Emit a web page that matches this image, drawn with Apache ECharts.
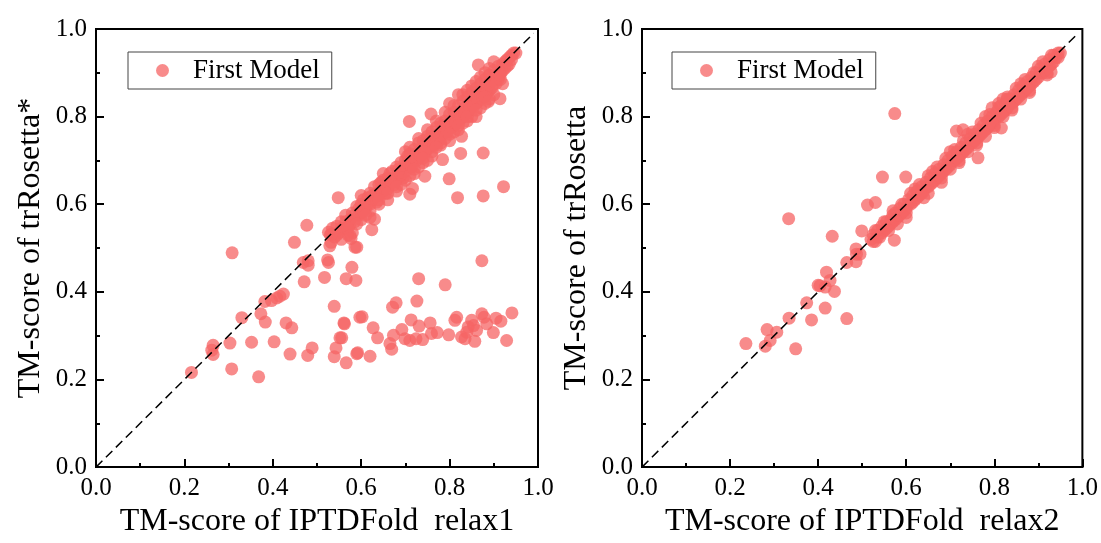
<!DOCTYPE html>
<html>
<head>
<meta charset="utf-8">
<script src="https://cdn.jsdelivr.net/npm/echarts@6/dist/echarts.min.js"></script>
<style>
html,body{margin:0;padding:0;background:#fff;}
#chart{width:1101px;height:543px;}
</style>
</head>
<body>
<div id="chart"></div>
<script>
// ---- data ----
var seriesName = 'First Model';
var leftXName = 'TM-score of IPTDFold  relax1';
var leftYName = 'TM-score of trRosetta*';
var rightXName = 'TM-score of IPTDFold  relax2';
var rightYName = 'TM-score of trRosetta';
var diagonal = [[0.0, 0.0], [0.99, 0.99]];

// relax1 vs trRosetta*: points close to the diagonal
var leftBand = [
[0.53,0.53],[0.535,0.545],[0.54,0.525],[0.545,0.55],[0.55,0.535],[0.555,0.56],[0.56,0.545],[0.565,0.575],
[0.57,0.55],[0.575,0.565],[0.58,0.58],[0.585,0.56],[0.59,0.595],[0.595,0.575],[0.60,0.60],[0.60,0.58],
[0.605,0.61],[0.61,0.59],[0.615,0.615],[0.62,0.60],[0.62,0.625],[0.625,0.61],[0.63,0.64],[0.63,0.615],
[0.635,0.625],[0.64,0.645],[0.64,0.62],[0.645,0.65],[0.65,0.63],[0.65,0.655],[0.655,0.64],[0.66,0.66],
[0.66,0.635],[0.665,0.67],[0.67,0.65],[0.67,0.675],[0.675,0.66],[0.68,0.685],[0.68,0.655],[0.685,0.67],
[0.69,0.695],[0.69,0.665],[0.695,0.68],[0.70,0.70],[0.70,0.675],[0.705,0.71],[0.705,0.69],[0.71,0.715],
[0.71,0.685],[0.715,0.70],[0.72,0.725],[0.72,0.70],[0.725,0.715],[0.73,0.74],[0.73,0.71],[0.735,0.725],
[0.74,0.745],[0.74,0.715],[0.745,0.735],[0.75,0.755],[0.75,0.725],[0.755,0.74],[0.76,0.765],[0.76,0.735],
[0.765,0.75],[0.77,0.775],[0.77,0.745],[0.775,0.76],[0.78,0.785],[0.78,0.755],[0.785,0.77],[0.79,0.79],
[0.79,0.765],[0.795,0.78],[0.80,0.805],[0.80,0.775],[0.805,0.79],[0.81,0.81],[0.81,0.78],[0.815,0.80],
[0.82,0.825],[0.82,0.795],[0.825,0.81],[0.83,0.835],[0.83,0.80],[0.835,0.82],[0.84,0.845],[0.84,0.81],
[0.845,0.83],[0.85,0.855],[0.85,0.825],[0.855,0.84],[0.86,0.865],[0.86,0.83],[0.865,0.85],[0.87,0.875],
[0.87,0.845],[0.875,0.86],[0.88,0.885],[0.88,0.855],[0.885,0.87],[0.89,0.895],[0.89,0.86],[0.895,0.88],
[0.90,0.905],[0.90,0.875],[0.905,0.89],[0.91,0.915],[0.91,0.885],[0.915,0.90],[0.92,0.92],[0.92,0.905],
[0.925,0.925],[0.93,0.93],[0.93,0.915],[0.935,0.935],[0.94,0.94],[0.945,0.945],[0.95,0.945],
[0.57,0.53],[0.58,0.535],[0.60,0.565],[0.62,0.57],[0.64,0.60],[0.66,0.61],[0.68,0.63],[0.70,0.655],
[0.72,0.67],[0.74,0.695],[0.76,0.71],[0.78,0.735],[0.80,0.745],[0.82,0.77],[0.84,0.79],[0.86,0.80],
[0.88,0.83],[0.90,0.85],[0.92,0.875],
[0.60,0.62],[0.65,0.67],[0.70,0.72],[0.75,0.77],[0.80,0.83],[0.82,0.85],[0.85,0.87],[0.87,0.89],[0.90,0.925],
[0.545,0.53],[0.555,0.545],[0.565,0.56],[0.575,0.555],[0.585,0.575],[0.595,0.59],[0.605,0.585],[0.615,0.60],
[0.625,0.62],[0.635,0.605],[0.645,0.635],[0.655,0.625],[0.665,0.655],[0.675,0.645],[0.685,0.68],[0.695,0.66],
[0.705,0.695],[0.715,0.685],[0.725,0.70],[0.735,0.71],[0.745,0.72],[0.755,0.75],[0.765,0.735],[0.775,0.745],
[0.785,0.78],[0.795,0.765],[0.805,0.775],[0.815,0.785],[0.825,0.795],[0.835,0.805],[0.845,0.815],[0.855,0.825],
[0.865,0.835],[0.875,0.845],[0.885,0.855],[0.895,0.865],[0.905,0.875],[0.915,0.885],[0.925,0.91],[0.935,0.92],
[0.94,0.93],[0.71,0.73],[0.73,0.75],[0.77,0.79],[0.79,0.81],[0.81,0.825],[0.83,0.85],[0.84,0.86],
[0.86,0.88],[0.88,0.90],[0.89,0.91],[0.76,0.72],[0.78,0.74],[0.79,0.75],[0.81,0.765],[0.83,0.785],
[0.85,0.80],[0.87,0.82],[0.89,0.84],[0.69,0.645],[0.71,0.665],[0.73,0.685],[0.75,0.70],[0.66,0.625],
[0.64,0.61],[0.62,0.585],[0.61,0.575],[0.59,0.555],[0.57,0.545],[0.555,0.52],[0.68,0.64],[0.72,0.68],
[0.74,0.705],[0.77,0.73],[0.80,0.76],[0.82,0.78],[0.84,0.80],[0.86,0.815],[0.88,0.845]
];
// relax1 vs trRosetta*: scattered points
var leftScatter = [
[0.216,0.216],[0.307,0.224],[0.368,0.206],[0.265,0.278],[0.262,0.267],[0.265,0.257],[0.303,0.283],[0.352,0.285],
[0.403,0.286],[0.439,0.258],[0.479,0.255],[0.489,0.272],[0.330,0.341],[0.373,0.350],[0.383,0.331],[0.430,0.329],
[0.443,0.318],[0.382,0.378],[0.397,0.380],[0.409,0.386],[0.416,0.390],[0.424,0.395],[0.308,0.489],[0.449,0.513],
[0.471,0.423],[0.469,0.467],[0.480,0.471],[0.480,0.461],[0.517,0.433],[0.524,0.473],[0.526,0.467],[0.477,0.552],
[0.539,0.367],[0.562,0.327],[0.552,0.295],[0.543,0.272],[0.539,0.252],[0.566,0.238],[0.566,0.430],[0.588,0.426],
[0.579,0.456],[0.590,0.259],[0.597,0.342],[0.532,0.513],[0.529,0.505],[0.533,0.532],[0.575,0.528],[0.586,0.502],
[0.873,0.471],[0.730,0.430],[0.790,0.416],[0.679,0.375],[0.671,0.365],[0.726,0.379],[0.602,0.343],[0.561,0.329],
[0.627,0.318],[0.637,0.295],[0.556,0.295],[0.592,0.261],[0.620,0.253],[0.665,0.282],[0.669,0.269],[0.673,0.301],
[0.692,0.314],[0.713,0.336],[0.699,0.293],[0.710,0.289],[0.731,0.322],[0.724,0.293],[0.739,0.291],[0.756,0.329],
[0.759,0.305],[0.772,0.307],[0.798,0.302],[0.816,0.342],[0.812,0.335],[0.850,0.335],[0.842,0.320],[0.854,0.323],
[0.827,0.297],[0.835,0.293],[0.857,0.287],[0.873,0.350],[0.878,0.342],[0.861,0.312],[0.884,0.327],[0.905,0.340],
[0.916,0.333],[0.899,0.307],[0.941,0.352],[0.929,0.289],[0.839,0.308],
[0.865,0.918],[0.914,0.841],[0.888,0.835],[0.709,0.789],[0.758,0.806],[0.825,0.716],[0.876,0.717],[0.784,0.702],
[0.799,0.658],[0.818,0.615],[0.876,0.619],[0.922,0.640],[0.744,0.664],[0.710,0.623],[0.716,0.636],[0.548,0.615],
[0.624,0.542],[0.630,0.566],[0.590,0.502],[0.577,0.522],[0.526,0.536],[0.827,0.755],[0.914,0.895]
];

// relax2 vs trRosetta: points close to the diagonal
var rightBand = [
[0.52,0.52],[0.525,0.53],[0.53,0.515],[0.535,0.54],[0.54,0.525],[0.545,0.55],[0.55,0.54],[0.555,0.56],
[0.56,0.55],[0.565,0.555],[0.57,0.575],[0.57,0.56],[0.575,0.58],[0.58,0.57],[0.585,0.59],[0.59,0.58],
[0.595,0.60],[0.60,0.59],[0.605,0.61],[0.61,0.60],[0.615,0.62],[0.62,0.61],[0.625,0.63],[0.63,0.62],
[0.635,0.64],[0.64,0.63],[0.645,0.65],[0.65,0.64],[0.655,0.66],[0.66,0.65],[0.665,0.67],[0.67,0.66],
[0.675,0.68],[0.68,0.67],[0.685,0.69],[0.69,0.68],[0.695,0.70],[0.70,0.69],[0.705,0.71],[0.71,0.70],
[0.715,0.72],[0.72,0.71],[0.725,0.73],[0.73,0.72],[0.735,0.74],[0.74,0.73],[0.745,0.75],[0.75,0.74],
[0.755,0.76],[0.76,0.75],[0.765,0.77],[0.77,0.76],[0.775,0.78],[0.78,0.77],[0.785,0.79],[0.79,0.78],
[0.795,0.80],[0.80,0.79],[0.805,0.81],[0.81,0.80],[0.815,0.825],[0.82,0.81],[0.825,0.83],[0.83,0.82],
[0.835,0.84],[0.84,0.83],[0.845,0.85],[0.85,0.84],[0.855,0.86],[0.86,0.85],[0.865,0.87],[0.87,0.86],
[0.875,0.88],[0.88,0.87],[0.885,0.89],[0.89,0.88],[0.895,0.90],[0.90,0.89],[0.905,0.91],[0.91,0.90],
[0.915,0.92],[0.92,0.91],[0.925,0.93],[0.93,0.92],[0.935,0.94],[0.94,0.935],[0.945,0.945],[0.95,0.945],
[0.58,0.555],[0.60,0.57],[0.62,0.635],[0.65,0.625],[0.66,0.675],[0.68,0.65],[0.70,0.72],[0.72,0.695],
[0.74,0.76],[0.76,0.735],[0.78,0.80],[0.80,0.775],[0.82,0.84],[0.84,0.815],[0.86,0.875],[0.88,0.855],
[0.90,0.915],[0.92,0.895],[0.795,0.82],[0.81,0.83],[0.83,0.845],
[0.525,0.515],[0.535,0.525],[0.545,0.535],[0.555,0.545],[0.565,0.565],[0.575,0.565],[0.585,0.575],[0.595,0.585],
[0.605,0.60],[0.615,0.605],[0.625,0.615],[0.635,0.625],[0.645,0.64],[0.655,0.645],[0.665,0.655],[0.675,0.665],
[0.685,0.675],[0.695,0.685],[0.705,0.70],[0.715,0.705],[0.725,0.715],[0.735,0.725],[0.745,0.74],[0.755,0.745],
[0.765,0.755],[0.775,0.765],[0.785,0.775],[0.795,0.785],[0.805,0.80],[0.815,0.805],[0.825,0.815],[0.835,0.83],
[0.845,0.835],[0.855,0.845],[0.865,0.855],[0.875,0.865],[0.885,0.875],[0.895,0.885],[0.905,0.90],[0.915,0.905],
[0.925,0.915],[0.935,0.925],[0.945,0.935],
[0.53,0.54],[0.55,0.56],[0.57,0.585],[0.59,0.60],[0.61,0.625],[0.63,0.645],[0.65,0.665],[0.67,0.685],
[0.69,0.705],[0.71,0.725],[0.73,0.745],[0.75,0.765],[0.77,0.785],[0.79,0.805],[0.81,0.82],[0.83,0.84],
[0.85,0.865],[0.87,0.885],[0.89,0.90],[0.91,0.925],[0.93,0.94],
[0.56,0.54],[0.60,0.58],[0.64,0.615],[0.68,0.66],[0.72,0.70],[0.76,0.74],[0.80,0.78],[0.84,0.82],
[0.88,0.86],[0.92,0.90],[0.78,0.755],[0.82,0.80],[0.86,0.84],[0.70,0.68],[0.74,0.72]
];
// relax2 vs trRosetta: scattered points
var rightScatter = [
[0.333,0.567],[0.432,0.527],[0.499,0.539],[0.512,0.598],[0.530,0.604],[0.419,0.445],[0.404,0.414],[0.416,0.411],
[0.427,0.426],[0.437,0.401],[0.400,0.415],[0.465,0.467],[0.486,0.469],[0.487,0.486],[0.495,0.486],[0.486,0.498],
[0.374,0.375],[0.416,0.363],[0.385,0.336],[0.465,0.339],[0.334,0.340],[0.284,0.314],[0.306,0.308],[0.291,0.289],
[0.280,0.276],[0.236,0.282],[0.349,0.270],[0.573,0.518],[0.574,0.807],[0.546,0.662],[0.599,0.662],[0.763,0.706],
[0.816,0.774],[0.714,0.767],[0.729,0.770],[0.929,0.902]
];

// ---- chart ----
var FONT = "'Liberation Serif', 'Times New Roman', serif";
var chart = echarts.init(document.getElementById('chart'), null, {renderer: 'canvas'});

function axisCommon(gi, name, gap) {
  return {
    type: 'value', gridIndex: gi, min: 0, max: 1, interval: 0.2,
    name: name, nameLocation: 'middle', nameGap: gap,
    nameTextStyle: {fontFamily: FONT, fontSize: 32, color: '#000'},
    axisLine: {show: true, onZero: false, lineStyle: {color: '#000', width: 2}},
    axisTick: {show: true, inside: true, length: 8, lineStyle: {color: '#000', width: 2}},
    minorTick: {show: true, splitNumber: 2, length: 4, lineStyle: {color: '#000', width: 2}},
    splitLine: {show: false},
    axisLabel: {fontFamily: FONT, fontSize: 25, color: '#000', margin: 9,
      formatter: function (v) { return v.toFixed(1); }}
  };
}
function legend(left) {
  return {
    data: [seriesName], left: left, top: 52, orient: 'horizontal',
    icon: 'circle', itemWidth: 13, itemHeight: 13,
    padding: [5, 12, 5, 28], borderColor: '#444', borderWidth: 1,
    formatter: '{t|{name}}',
    textStyle: {fontFamily: FONT, fontSize: 27, color: '#000',
      rich: {t: {fontFamily: FONT, fontSize: 27, color: '#000', padding: [0, 0, 0, 19]}}},
    selectedMode: false
  };
}
var markerStyle = {color: '#F56464', opacity: 0.75};

chart.setOption({
  animation: false,
  backgroundColor: '#fff',
  grid: [
    {left: 96, top: 29, width: 442, height: 440, show: true, borderColor: '#000', borderWidth: 2, containLabel: false},
    {left: 642, top: 29, width: 441, height: 440, show: true, borderColor: '#000', borderWidth: 2, containLabel: false}
  ],
  legend: [legend(128), legend(672)],
  xAxis: [axisCommon(0, leftXName, 36), axisCommon(1, rightXName, 36)],
  yAxis: [axisCommon(0, leftYName, 49), axisCommon(1, rightYName, 49)],
  series: [
    {name: seriesName, type: 'scatter', xAxisIndex: 0, yAxisIndex: 0, symbol: 'circle', symbolSize: 13,
     itemStyle: markerStyle, data: leftBand.concat(leftScatter), z: 2},
    {name: seriesName, type: 'scatter', xAxisIndex: 1, yAxisIndex: 1, symbol: 'circle', symbolSize: 13,
     itemStyle: markerStyle, data: rightBand.concat(rightScatter), z: 2},
    {name: 'diag1', type: 'line', xAxisIndex: 0, yAxisIndex: 0, data: diagonal, symbol: 'none', z: 5,
     lineStyle: {color: '#000', width: 1.5, type: [9, 5]}, silent: true},
    {name: 'diag2', type: 'line', xAxisIndex: 1, yAxisIndex: 1, data: diagonal, symbol: 'none', z: 5,
     lineStyle: {color: '#000', width: 1.5, type: [9, 5]}, silent: true}
  ]
});
</script>
</body>
</html>
